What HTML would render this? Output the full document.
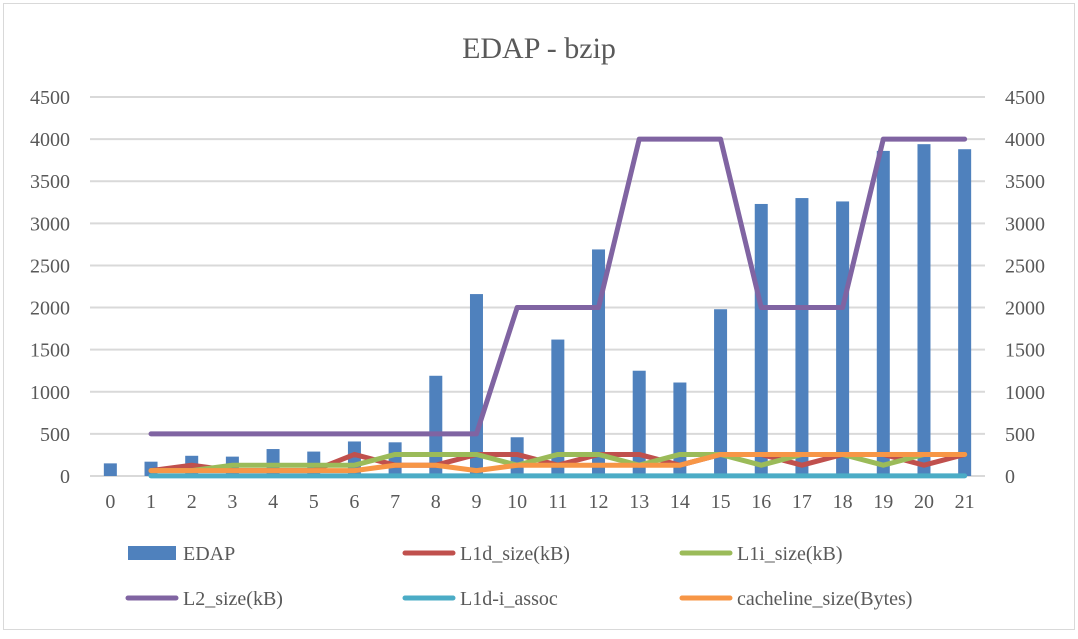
<!DOCTYPE html>
<html><head><meta charset="utf-8"><style>
body{margin:0;background:#fff;}
svg text{font-family:"Liberation Serif",serif;fill:#595959;}
</style></head><body>
<svg width="1078" height="634" id="c">
<rect x="3.5" y="3.5" width="1071" height="626" fill="#fff" stroke="#d9d9d9"/>
<text x="539" y="58" font-size="30" text-anchor="middle">EDAP - bzip</text>
<g id="grid"></g><g id="bars"></g><g id="lines"></g><g id="axes"></g><g id="legend"></g>
</svg>
<script>
const categories=[0,1,2,3,4,5,6,7,8,9,10,11,12,13,14,15,16,17,18,19,20,21];
const edap=[150,170,240,230,320,290,410,400,1190,2160,460,1620,2690,1250,1110,1980,3230,3300,3260,3860,3940,3880];
const l1d=[null,64,128,64,64,64,256,128,128,256,256,128,256,256,128,256,256,128,256,256,128,256];
const l1i=[null,64,64,128,128,128,128,256,256,256,128,256,256,128,256,256,128,256,256,128,256,256];
const l2=[null,500,500,500,500,500,500,500,500,500,2000,2000,2000,4000,4000,4000,2000,2000,2000,4000,4000,4000];
const assoc=[null,2,2,2,2,2,2,2,2,2,2,2,2,2,2,2,2,2,2,2,2,2];
const cacheline=[null,64,64,64,64,64,64,128,128,64,128,128,128,128,128,256,256,256,256,256,256,256];
const yTicks=[0,500,1000,1500,2000,2500,3000,3500,4000,4500];
const NS="http://www.w3.org/2000/svg";
const x0=90,x1=985,yTop=97,yBot=476;
const step=(x1-x0)/categories.length;
const X=i=>x0+step*(i+0.5);
const Y=v=>yBot-(v/4500)*(yBot-yTop);
function mk(t,a,p){const e=document.createElementNS(NS,t);for(const k in a)e.setAttribute(k,a[k]);p.appendChild(e);return e;}
const grid=document.getElementById('grid'),axes=document.getElementById('axes');
yTicks.forEach(v=>{
 const g=mk('line',{x1:x0,x2:x1,y1:Y(v),y2:Y(v),stroke:'#d9d9d9','stroke-width':2},grid);
 
 
 const t=mk('text',{x:70,y:Y(v)+7,'font-size':20,'text-anchor':'end'},axes);t.textContent=v;
 
 
 const t2=mk('text',{x:1005,y:Y(v)+7,'font-size':20},axes);t2.textContent=v;
 
 
});
categories.forEach((c,i)=>{
 const t=mk('text',{x:X(i),y:508,'font-size':20,'text-anchor':'middle'},axes);t.textContent=c;
 
 
});
const bars=document.getElementById('bars');
edap.forEach((v,i)=>{
 const r=mk('rect',{x:X(i)-6.5,y:Y(v),width:13,height:yBot-Y(v),fill:'#4f81bd'},bars);
 
 
});
const series=[[l1d,'#c0504d','l1d-line'],[l1i,'#9bbb59','l1i-line'],[l2,'#8064a2','l2-line'],[assoc,'#4bacc6','assoc-line'],[cacheline,'#f79646','cacheline-line']];
const lines=document.getElementById('lines');
series.forEach(([d,col,name])=>{
 const pts=[];d.forEach((v,i)=>{if(v!=null)pts.push(X(i)+','+Y(v));});
 const p=mk('polyline',{points:pts.join(' '),fill:'none',stroke:col,'stroke-width':5,'stroke-linejoin':'round','stroke-linecap':'round'},lines);
 
 
});
const leg=[['EDAP','#4f81bd',128,553,true],['L1d_size(kB)','#c0504d',405,553],['L1i_size(kB)','#9bbb59',682,553],['L2_size(kB)','#8064a2',128,598],['L1d-i_assoc','#4bacc6',405,598],['cacheline_size(Bytes)','#f79646',682,598]];
const lg=document.getElementById('legend');
leg.forEach(([n,col,x,y,bar])=>{
 const g=mk('g',{},lg);
 
 
 if(bar)mk('rect',{x:x,y:y-7,width:48,height:14,fill:col},g);
 else mk('line',{x1:x,x2:x+48,y1:y,y2:y,stroke:col,'stroke-width':5,'stroke-linecap':'round'},g);
 const t=mk('text',{x:x+55,y:y+7,'font-size':20},g);t.textContent=n;
});
</script>
</body></html>
